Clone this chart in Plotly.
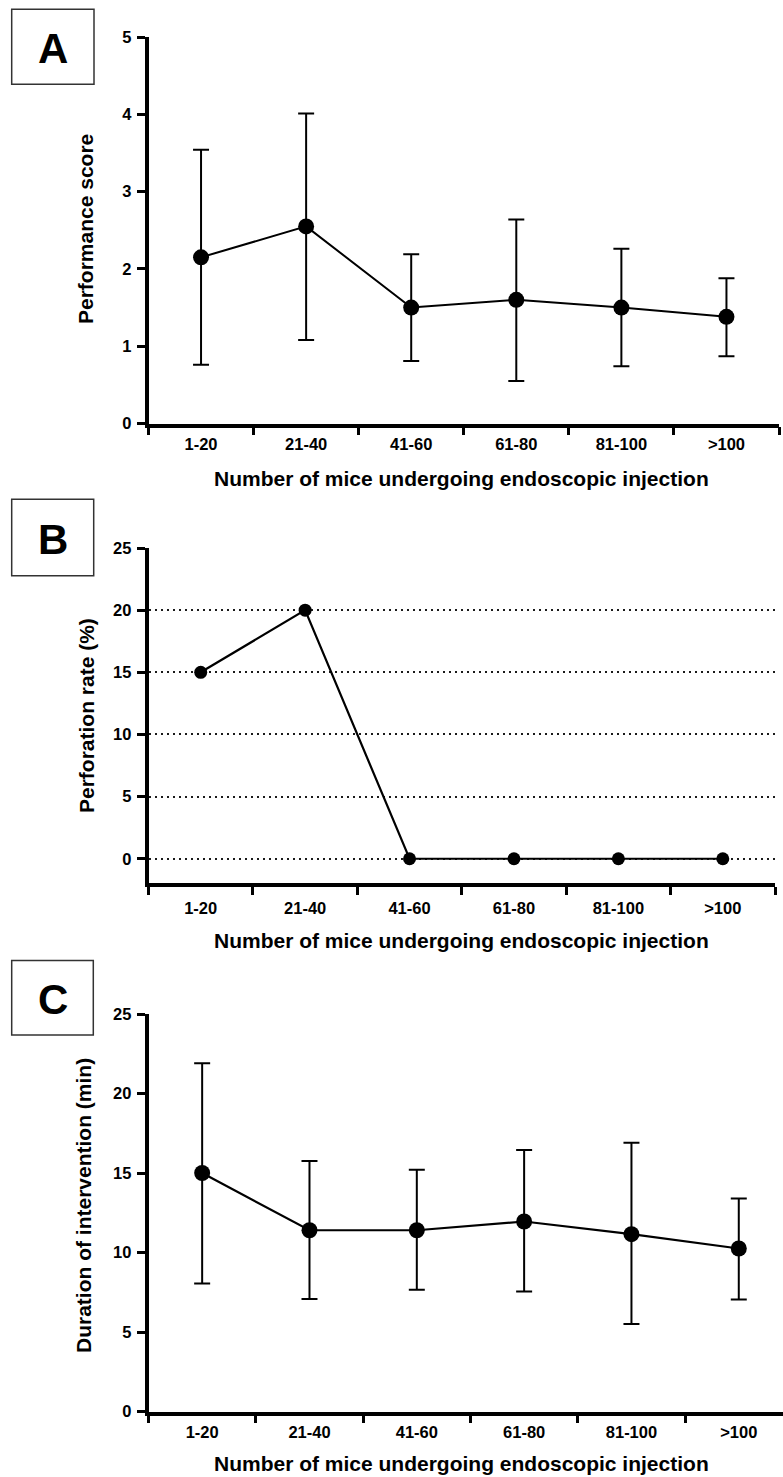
import plotly.graph_objects as go

# ---------------- data ----------------
categories = ["1-20", "21-40", "41-60", "61-80", "81-100", ">100"]

score_mean = [2.15, 2.55, 1.50, 1.60, 1.50, 1.38]
score_upper = [3.54, 4.01, 2.19, 2.64, 2.26, 1.88]
score_lower = [0.76, 1.08, 0.81, 0.55, 0.74, 0.87]

perforation_rate = [15, 20, 0, 0, 0, 0]

duration_mean = [15.0, 11.4, 11.4, 11.95, 11.15, 10.25]
duration_upper = [21.9, 15.75, 15.2, 16.45, 16.9, 13.4]
duration_lower = [8.05, 7.07, 7.65, 7.55, 5.5, 7.05]

score_ticks = [0, 1, 2, 3, 4, 5]
rate_ticks = [0, 5, 10, 15, 20, 25]
rate_grid = [0, 5, 10, 15, 20]
duration_ticks = [0, 5, 10, 15, 20, 25]

x_title = "Number of mice undergoing endoscopic injection"
panel_letters = ["A", "B", "C"]
y_titles = ["Performance score", "Perforation rate (%)", "Duration of intervention (min)"]

# ---------------- layout helpers ----------------
W, H = 783, 1477
FONT = "Liberation Sans, Arial, sans-serif"


def px(x):
    return x / W


def py(y):
    return 1 - y / H


up_a = [u - m for u, m in zip(score_upper, score_mean)]
dn_a = [m - l for m, l in zip(score_mean, score_lower)]
up_c = [u - m for u, m in zip(duration_upper, duration_mean)]
dn_c = [m - l for m, l in zip(duration_mean, duration_lower)]

fig = go.Figure()

fig.add_trace(go.Scatter(
    x=categories, y=score_mean, mode="lines+markers",
    line=dict(color="black", width=2),
    marker=dict(color="black", size=16),
    error_y=dict(type="data", array=up_a, arrayminus=dn_a, color="black",
                 thickness=2, width=8),
    xaxis="x", yaxis="y", showlegend=False, hoverinfo="skip"))

# invisible helper so the dotted grid axis is drawn
fig.add_trace(go.Scatter(
    x=categories, y=perforation_rate, mode="lines", line=dict(width=0),
    opacity=0, xaxis="x2", yaxis="y4", showlegend=False, hoverinfo="skip"))

fig.add_trace(go.Scatter(
    x=categories, y=perforation_rate, mode="lines+markers",
    line=dict(color="black", width=2.2),
    marker=dict(color="black", size=13),
    xaxis="x2", yaxis="y2", showlegend=False, hoverinfo="skip"))

fig.add_trace(go.Scatter(
    x=categories, y=duration_mean, mode="lines+markers",
    line=dict(color="black", width=2.2),
    marker=dict(color="black", size=16),
    error_y=dict(type="data", array=up_c, arrayminus=dn_c, color="black",
                 thickness=2, width=8),
    xaxis="x3", yaxis="y3", showlegend=False, hoverinfo="skip"))

tickfont = dict(family=FONT, size=16.5, color="black", weight="bold")

xcommon = dict(type="category", categoryorder="array", categoryarray=categories,
               tickson="boundaries", ticks="outside", ticklen=8, tickwidth=3,
               tickcolor="black", showline=True, linewidth=3.5, linecolor="black",
               showgrid=False, zeroline=False, tickfont=tickfont, fixedrange=True,
               automargin=False)
ycommon = dict(ticks="outside", ticklen=8, tickwidth=3, tickcolor="black",
               showline=True, linewidth=3.5, linecolor="black", showgrid=False,
               zeroline=False, tickfont=tickfont, fixedrange=True, ticklabelstandoff=2,
               automargin=False)

fig.update_layout(
    width=W, height=H, autosize=False,
    margin=dict(l=0, r=0, t=0, b=0, pad=0, autoexpand=False),
    paper_bgcolor="white", plot_bgcolor="white",
    xaxis=dict(xcommon, domain=[px(148.5), px(779)], range=[-0.5, 5.5],
               anchor="y", ticklabelstandoff=3),
    yaxis=dict(ycommon, domain=[py(423.5), py(37)], range=[0, 5],
               tickvals=score_ticks, anchor="x"),
    xaxis2=dict(xcommon, domain=[px(148.5), px(775)], range=[-0.5, 5.5],
                anchor="y2", ticklabelstandoff=7),
    yaxis2=dict(ycommon, domain=[py(883), py(548)], range=[-1.95, 25],
                tickvals=rate_ticks, anchor="x2"),
    yaxis4=dict(overlaying="y2", anchor="x2", range=[-1.95, 25],
                tickvals=rate_grid, showgrid=True, gridcolor="#1a1a1a",
                gridwidth=2, griddash="2px,4px", showticklabels=False,
                ticks="", showline=False, zeroline=False, fixedrange=True,
                automargin=False),
    xaxis3=dict(xcommon, domain=[px(148.5), 1.0], range=[-0.5, 5.412],
                anchor="y3", ticklabelstandoff=3),
    yaxis3=dict(ycommon, domain=[py(1411.5), py(1014)], range=[0, 25],
                tickvals=duration_ticks, anchor="x3"),
)

# panel letter boxes and letters
boxes = [(11.7, 9.3, 94, 84.3), (11.7, 499.3, 93.7, 575.7), (11.7, 960.5, 93.3, 1035)]
for (x0, y0, x1, y1), letter in zip(boxes, panel_letters):
    fig.add_shape(type="rect", xref="paper", yref="paper",
                  x0=px(x0), x1=px(x1), y0=py(y1), y1=py(y0),
                  line=dict(color="#333333", width=1.5), fillcolor="white")
    fig.add_annotation(text=letter, xref="paper", yref="paper",
                       x=px((x0 + x1) / 2), y=py((y0 + y1) / 2 + 2),
                       xanchor="center", yanchor="middle", showarrow=False,
                       font=dict(family=FONT, size=42, color="black", weight="bold"))

# axis titles as annotations
title_font = dict(family=FONT, size=21, color="black", weight="bold")
y_title_pos = [(85, 229), (87, 716), (83, 1206)]
for (x, y), t in zip(y_title_pos, y_titles):
    fig.add_annotation(text=t, xref="paper", yref="paper", x=px(x), y=py(y),
                       xanchor="center", yanchor="middle", textangle=-90,
                       showarrow=False, font=title_font)

x_title_pos = [(461, 478), (461, 940), (461.5, 1463)]
for (x, y) in x_title_pos:
    fig.add_annotation(text=x_title, xref="paper", yref="paper", x=px(x), y=py(y),
                       xanchor="center", yanchor="middle", showarrow=False,
                       font=title_font)

page_fix = (
    "var gd=document.getElementsByClassName('plotly-graph-div')[0];"
    "document.documentElement.style.margin='0';"
    "document.body.style.margin='0';document.body.style.padding='0';"
    "document.documentElement.style.overflow='hidden';"
    "document.body.style.overflow='hidden';"
    "gd.style.position='fixed';gd.style.top='0px';gd.style.left='0px';"
)

fig.write_html("out.html", config={"displayModeBar": False, "responsive": False},
               post_script=page_fix)
